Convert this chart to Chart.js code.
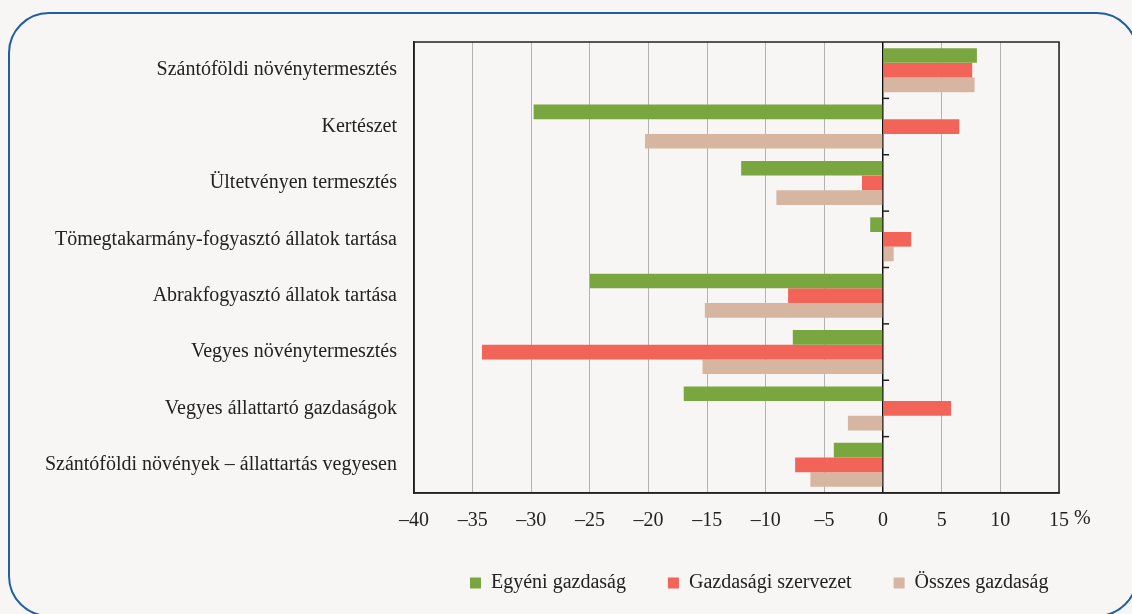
<!DOCTYPE html>
<html>
<head>
<meta charset="utf-8">
<script src="https://cdn.jsdelivr.net/npm/chart.js@4"></script>
<style>
  body { margin: 0; background: #f7f6f4; }
  #wrap { width: 1132px; height: 614px; }
</style>
</head>
<body>
<div id="wrap"><canvas id="barChart" width="1132" height="614"></canvas></div>
<script>
const categories = [
    'Szántóföldi növénytermesztés',
    'Kertészet',
    'Ültetvényen termesztés',
    'Tömegtakarmány-fogyasztó állatok tartása',
    'Abrakfogyasztó állatok tartása',
    'Vegyes növénytermesztés',
    'Vegyes állattartó gazdaságok',
    'Szántóföldi növények – állattartás vegyesen'
];
const seriesNames = ['Egyéni gazdaság', 'Gazdasági szervezet', 'Összes gazdaság'];
const egyeni = [8.0, -29.8, -12.1, -1.1, -25.0, -7.7, -17.0, -4.2];
const szervezet = [7.6, 6.5, -1.8, 2.4, -8.1, -34.2, 5.8, -7.5];
const osszes = [7.8, -20.3, -9.1, 0.9, -15.2, -15.4, -3.0, -6.2];
const xMin = -40, xMax = 15, xStep = 5;

const colors = ['#7aa63f', '#f26457', '#d6b6a0'];
const fontFamily = '"Liberation Serif", "Times New Roman", serif';

// rounded blue frame around the whole figure + box round the plot
const framePlugin = {
    id: 'frame',
    afterLayout(chart) {
        // move the legend so that it starts under the plot, like the original
        const lg = chart.legend;
        lg.left = 470 - lg.options.labels.padding;
        lg.right = 1132;
    },
    beforeDraw(chart) {
        const ctx = chart.ctx;
        ctx.save();
        ctx.strokeStyle = '#1f5f9f';
        ctx.lineWidth = 2;
        ctx.beginPath();
        ctx.roundRect(9, 13, 1128, 603, 40);
        ctx.stroke();
        ctx.restore();
    },
    afterDraw(chart) {
        const { ctx, chartArea: a, scales: { x, y } } = chart;
        ctx.save();
        ctx.strokeStyle = '#222';
        ctx.lineWidth = 1.5;
        ctx.strokeRect(a.left, a.top, a.right - a.left, a.bottom - a.top);
        // small marks between categories on the zero line
        const x0 = x.getPixelForValue(0);
        for (let i = 0; i < categories.length - 1; i++) {
            const yy = (y.getPixelForValue(i) + y.getPixelForValue(i + 1)) / 2;
            ctx.beginPath();
            ctx.moveTo(x0, yy);
            ctx.lineTo(x0 + 6, yy);
            ctx.stroke();
        }
        // % sign after last tick
        ctx.fillStyle = '#222';
        ctx.font = '20px ' + fontFamily;
        ctx.textBaseline = 'middle';
        ctx.textAlign = 'left';
        ctx.fillText('%', x.getPixelForValue(xMax) + 15, a.bottom + 26);
        ctx.restore();
    }
};

const ctx = document.getElementById('barChart').getContext('2d');
new Chart(ctx, {
    type: 'bar',
    data: {
        labels: categories,
        datasets: [egyeni, szervezet, osszes].map((d, i) => ({
            label: seriesNames[i],
            data: d,
            backgroundColor: colors[i],
            borderWidth: 0,
            categoryPercentage: 0.78,
            barPercentage: 1.0
        }))
    },
    options: {
        indexAxis: 'y',
        responsive: false,
        animation: false,
        layout: { padding: { top: 42, right: 73, left: 0, bottom: 11 } },
        plugins: {
            tooltip: { enabled: false },
            legend: {
                position: 'bottom',
                align: 'start',
                labels: {
                    boxWidth: 11,
                    boxHeight: 11,
                    padding: 42,
                    color: '#222',
                    font: { family: fontFamily, size: 20 }
                }
            }
        },
        scales: {
            x: {
                min: xMin,
                max: xMax,
                ticks: {
                    stepSize: xStep,
                    color: '#222',
                    padding: 16,
                    maxRotation: 0,
                    font: { family: fontFamily, size: 20 },
                    callback: v => v < 0 ? '–' + Math.abs(v) : String(v)
                },
                grid: {
                    drawTicks: false,
                    color: c => c.tick.value === 0 ? '#111' : '#b3b3b3',
                    lineWidth: c => c.tick.value === 0 ? 1.5 : 1
                },
                border: { color: '#222', width: 1.5 },
                afterFit: s => { s.height = 38; }
            },
            y: {
                ticks: {
                    color: '#222',
                    padding: 17,
                    font: { family: fontFamily, size: 20 }
                },
                grid: { display: false, drawTicks: false },
                border: { color: '#222', width: 1.5 },
                afterFit: s => { s.width = 414; }
            }
        }
    },
    plugins: [framePlugin]
});
</script>
</body>
</html>
